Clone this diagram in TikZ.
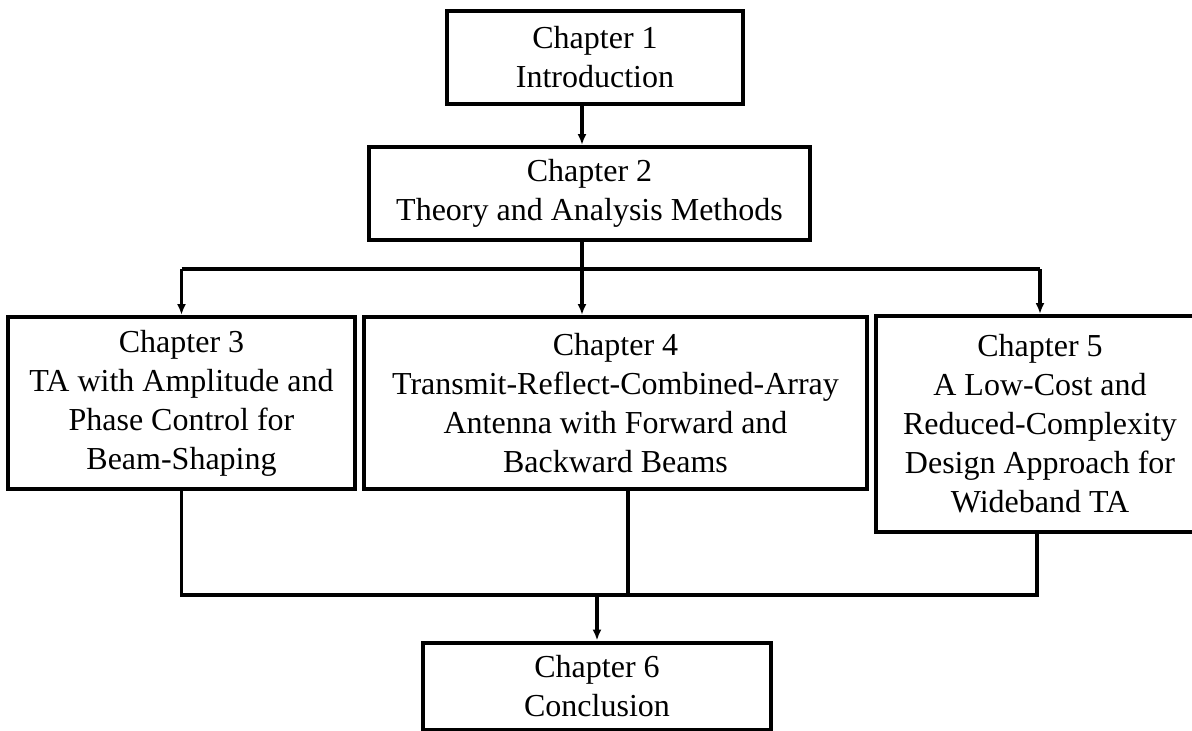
\documentclass[tikz,border=0pt]{standalone}
\usepackage{fontspec}
\setmainfont{Liberation Serif}
\usetikzlibrary{arrows.meta, positioning, calc}
\tikzset{
  chapBox/.style={rectangle, draw=black, line width=4pt, fill=white,
                  align=center, inner sep=2pt,
                  font=\fontsize{32}{39}\selectfont},
  link/.style={draw=black, line width=3.2pt},
  linkA/.style={link, -{Latex[length=11pt, width=9pt]}},
}
\begin{document}
\begin{tikzpicture}[x=1pt, y=-1pt]
    \useasboundingbox (0,0) rectangle (1192,731);
    %% chapter boxes
    \node[chapBox, minimum width=296pt, minimum height=93pt] (c1) at (595,57.5)
      {Chapter 1\\Introduction};
    \node[chapBox, minimum width=441pt, minimum height=93pt] (c2) at (589.5,193.5)
      {Chapter 2\\Theory and Analysis Methods};
    \node[chapBox, minimum width=347pt, minimum height=172pt] (c3) at (181.5,403)
      {Chapter 3\\TA with Amplitude and\\Phase Control for\\Beam-Shaping};
    \node[chapBox, minimum width=503pt, minimum height=172pt] (c4) at (615.5,403)
      {Chapter 4\\Transmit-Reflect-Combined-Array\\Antenna with Forward and\\Backward Beams};
    \node[chapBox, minimum width=328pt, minimum height=216pt] (c5) at (1040,424)
      {Chapter 5\\A Low-Cost and\\Reduced-Complexity\\Design Approach for\\Wideband TA};
    \node[chapBox, minimum width=348pt, minimum height=87pt] (c6) at (597,686)
      {Chapter 6\\Conclusion};
    %% bus points
    \coordinate (busT) at (582,269);
    \coordinate (busB) at (597,595);
    \coordinate (c4out) at (628,0);
    \coordinate (c5out) at (1037,0);
    %% top part
    \draw[linkA] (c1.south -| busT) -- (c2.north -| busT);
    \draw[link] (c2.south -| busT) -- (busT);
    \draw[link] (busT -| c3) -- (busT -| c5);
    \draw[linkA] (busT -| c3) -- (c3.north);
    \draw[linkA] (busT) -- (c4.north -| busT);
    \draw[linkA] (busT -| c5) -- (c5.north);
    %% bottom part
    \draw[link] (c3.south) -- (busB -| c3) -- (busB -| c5out) -- (c5.south -| c5out);
    \draw[link] (c4.south -| c4out) -- (busB -| c4out);
    \draw[linkA] (busB) -- (c6.north);
\end{tikzpicture}
\end{document}
